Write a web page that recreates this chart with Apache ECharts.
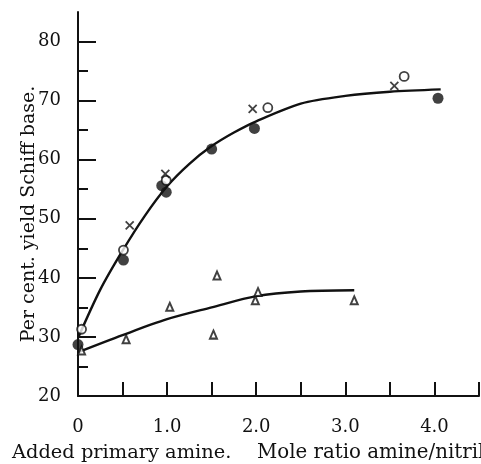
<!DOCTYPE html>
<html><head><meta charset="utf-8">
<script src="https://cdn.jsdelivr.net/npm/echarts@6/dist/echarts.min.js"></script>
<style>html,body{margin:0;padding:0;background:#fff}#c{width:481px;height:464px}</style>
</head><body><div id="c"></div><script>
// Data
const filledX=[0,0.51,0.94,0.99,1.50,1.98,4.04];
const filledY=[28.7,43.0,55.6,54.5,61.8,65.3,70.4];
const openX=[0.04,0.51,0.99,2.13,3.66];
const openY=[31.3,44.7,56.5,68.8,74.1];
const crossX=[0.58,0.98,1.96,3.55];
const crossY=[48.9,57.6,68.6,72.5];
const triX=[0.04,0.54,1.03,1.52,1.56,1.99,2.02,3.10];
const triY=[27.7,29.6,35.1,30.4,40.4,36.2,37.6,36.2];
const upperX=[0,0.25,0.5,0.75,1.0,1.25,1.5,1.75,2.0,2.5,3.0,3.5,4.07];
const upperY=[29.8,38.0,44.6,50.5,55.5,59.3,62.3,64.6,66.5,69.5,70.8,71.5,71.9];
const lowerX=[0,0.5,1.0,1.5,2.0,2.5,3.1];
const lowerY=[27.4,30.3,33.0,35.0,36.9,37.7,37.9];
const xLabels=[0,1,2,3,4];
const yMajor=[20,30,40,50,60,70,80];
const yMinor=[25,35,45,55,65,75];
const yTitle='Per cent. yield Schiff base.';
const xTitle1='Added primary amine.';
const xTitle2='Mole ratio amine/nitrile.';

const pair=(xs,ys)=>xs.map((x,i)=>[x,ys[i]]);
const FONT='DejaVu Serif';
const INK='#111';
const chart=echarts.init(document.getElementById('c'));
const yBase={type:'value',min:20,max:85,position:'left',splitLine:{show:false}};
chart.setOption({
  animation:false,
  backgroundColor:'#fff',
  grid:{left:78,right:2,top:12,bottom:68},
  xAxis:{type:'value',min:0,max:4.5,interval:0.5,splitLine:{show:false},
    axisLine:{lineStyle:{color:INK,width:2}},
    axisTick:{inside:true,length:14,lineStyle:{color:INK,width:2}},
    axisLabel:{customValues:xLabels,margin:22,fontFamily:FONT,fontSize:18,color:INK,
      formatter:v=>{const r=Math.round(v*100)/100;return xLabels.indexOf(r)<0?'':(r===0?'0':r.toFixed(1));}}},
  yAxis:[
    Object.assign({},yBase,{
      axisLine:{show:true,lineStyle:{color:INK,width:2}},
      axisTick:{show:true,inside:true,length:18,lineStyle:{color:INK,width:2},customValues:yMajor},
      axisLabel:{customValues:yMajor,margin:17,fontFamily:FONT,fontSize:18,color:INK}}),
    Object.assign({},yBase,{
      axisLine:{show:false},
      axisTick:{show:true,inside:true,length:10,lineStyle:{color:INK,width:2},customValues:yMinor},
      axisLabel:{show:false}})
  ],
  graphic:[
    {type:'text',left:12,top:443,style:{text:xTitle1,font:'19.4px "DejaVu Serif"',fill:INK}},
    {type:'text',left:257,top:443,style:{text:xTitle2,font:'19.8px "DejaVu Serif"',fill:INK}},
    {type:'text',x:29,y:214,rotation:Math.PI/2,style:{text:yTitle,font:'19px "DejaVu Serif"',fill:INK,align:'center',verticalAlign:'middle'}}
  ],
  series:[
    {type:'line',data:pair(upperX,upperY),smooth:0.3,showSymbol:false,symbol:'none',lineStyle:{color:INK,width:2.4},z:2},
    {type:'line',data:pair(lowerX,lowerY),smooth:0.3,showSymbol:false,symbol:'none',lineStyle:{color:INK,width:2.4},z:2},
    {type:'scatter',data:pair(filledX,filledY),symbol:'circle',symbolSize:11,itemStyle:{color:INK},z:3},
    {type:'scatter',data:pair(openX,openY),symbol:'circle',symbolSize:9,itemStyle:{color:'#fff',borderColor:INK,borderWidth:1.8},z:4},
    {type:'scatter',data:pair(crossX,crossY),symbol:'path://M0,0L10,10M10,0L0,10',symbolSize:8,itemStyle:{color:'none',borderColor:INK,borderWidth:1.8},z:4},
    {type:'scatter',data:pair(triX,triY),symbol:'triangle',symbolSize:[7,8],itemStyle:{color:'#fff',borderColor:INK,borderWidth:2},z:4}
  ]
});
</script></body></html>
